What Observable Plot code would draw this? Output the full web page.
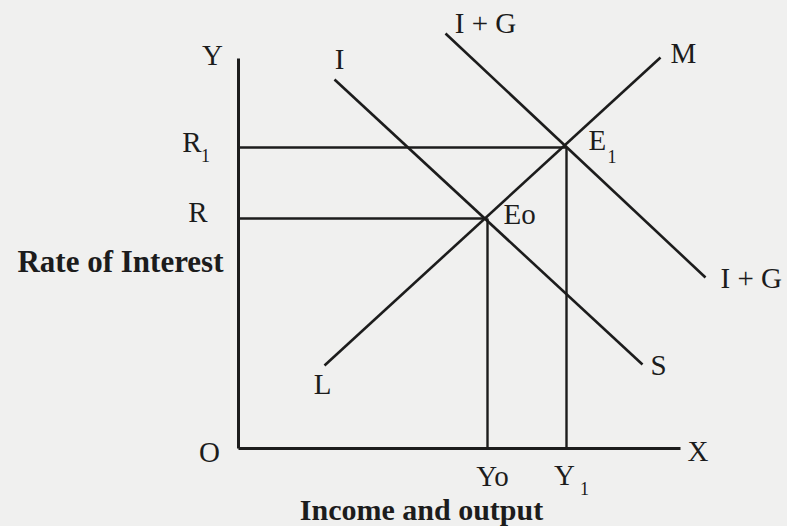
<!DOCTYPE html>
<html>
<head>
<meta charset="utf-8">
<script src="https://cdn.jsdelivr.net/npm/d3@7"></script>
<script src="https://cdn.jsdelivr.net/npm/@observablehq/plot@0.6"></script>
<style>
  html, body { margin: 0; padding: 0; background: #f0f0ef; }
  #chart { width: 787px; height: 526px; }
</style>
</head>
<body>
<div id="chart"></div>
<script>
// ---- Data (chart units: O at origin) ----
const curveNames      = ["IS", "LM", "IG"];
const curveStartX     = [9.6, 8.6, 20.7];
const curveStartY     = [36.9, 8.3, 41.5];
const curveEndX       = [40.4, 42.2, 46.7];
const curveEndY       = [8.4, 39.1, 17.1];
const curveStartLabel = ["I", "L", "I + G"];
const curveEndLabel   = ["S", "M", "I + G"];

const equilibriumNames  = ["Eo", "E"];
const equilibriumSub    = ["", "1"];
const equilibriumIncome = [24.9, 32.8];
const equilibriumRate   = [23.0, 30.1];
const rateLabels        = ["R", "R"];
const rateSub           = ["", "1"];
const incomeLabels      = ["Yo", "Y"];
const incomeSub         = ["", "1"];

const xAxisEnd = 44.2;
const yAxisTop = 39.0;
const yAxisTitle = "Rate of Interest";
const xAxisTitle = "Income and output";

// ---- Tables built from the arrays ----
const curves = curveNames.map((name, i) => ({
  name, x1: curveStartX[i], y1: curveStartY[i], x2: curveEndX[i], y2: curveEndY[i],
  startLabel: curveStartLabel[i], endLabel: curveEndLabel[i]
}));
const eq = equilibriumNames.map((name, i) => ({
  name, sub: equilibriumSub[i], income: equilibriumIncome[i], rate: equilibriumRate[i],
  rLabel: rateLabels[i], rSub: rateSub[i], yLabel: incomeLabels[i], ySub: incomeSub[i]
}));
const axes = [
  {x1: 0, y1: 0, x2: 0, y2: yAxisTop},
  {x1: 0, y1: 0, x2: xAxisEnd, y2: 0}
];

const ink = "#1c1c1c";
const F = 29;   // label font size
const FS = 18;  // subscript size

const pick = (arr, k) => arr.filter(d => d.name === k);
const plain = d => d.sub === "";

const chart = Plot.plot({
  width: 787,
  height: 526,
  margin: 0,
  x: {domain: [-23.8, 54.9], axis: null},
  y: {domain: [-7.8, 44.8], axis: null},
  style: {fontFamily: "'Liberation Serif', 'Times New Roman', serif", background: "#f0f0ef", color: ink},
  marks: [
    // axes
    Plot.link(axes, {x1: "x1", y1: "y1", x2: "x2", y2: "y2", stroke: ink, strokeWidth: 3}),
    // guide lines
    Plot.link(eq, {x1: () => 0, y1: "rate", x2: "income", y2: "rate", stroke: ink, strokeWidth: 2.4}),
    Plot.link(eq, {x1: "income", y1: () => 0, x2: "income", y2: "rate", stroke: ink, strokeWidth: 2.4}),
    // curves
    Plot.link(curves, {x1: "x1", y1: "y1", x2: "x2", y2: "y2", stroke: ink, strokeWidth: 2.6}),

    // curve labels
    Plot.text(pick(curves, "IS"), {x: "x1", y: "y1", text: "startLabel", dx: 5, dy: -20, fontSize: F, fill: ink}),
    Plot.text(pick(curves, "IS"), {x: "x2", y: "y2", text: "endLabel", dx: 8, dy: 1, textAnchor: "start", fontSize: F, fill: ink}),
    Plot.text(pick(curves, "LM"), {x: "x1", y: "y1", text: "startLabel", dx: -2, dy: 19, fontSize: F, fill: ink}),
    Plot.text(pick(curves, "LM"), {x: "x2", y: "y2", text: "endLabel", dx: 10, dy: -4, textAnchor: "start", fontSize: F, fill: ink}),
    Plot.text(pick(curves, "IG"), {x: "x1", y: "y1", text: "startLabel", dx: 40, dy: -10, fontSize: F, fill: ink}),
    Plot.text(pick(curves, "IG"), {x: "x2", y: "y2", text: "endLabel", dx: 15, dy: 1, textAnchor: "start", fontSize: F, fill: ink}),

    // axis letters
    Plot.text(axes.slice(0, 1), {x: "x2", y: "y2", text: () => "Y", dx: -26, dy: -3, fontSize: F, fill: ink}),
    Plot.text(axes.slice(1, 2), {x: "x2", y: "y2", text: () => "X", dx: 7, dy: 3, textAnchor: "start", fontSize: F, fill: ink}),
    Plot.text(axes.slice(1, 2), {x: "x1", y: "y1", text: () => "O", dx: -29, dy: 4, fontSize: F, fill: ink}),

    // equilibrium labels
    Plot.text(eq, {x: "income", y: "rate", text: "name", dx: 16, dy: -4, textAnchor: "start", fontSize: F, fill: ink,
      filter: plain}),
    Plot.text(eq, {x: "income", y: "rate", text: "name", dx: 22, dy: -7, textAnchor: "start", fontSize: F, fill: ink,
      filter: d => !plain(d)}),
    Plot.text(eq, {x: "income", y: "rate", text: "sub", dx: 41, dy: 10, textAnchor: "start", fontSize: FS, fill: ink,
      filter: d => !plain(d)}),

    // rate labels
    Plot.text(eq, {x: () => 0, y: "rate", text: "rLabel", dx: -31, dy: -6, textAnchor: "end", fontSize: F, fill: ink,
      filter: d => d.rSub === ""}),
    Plot.text(eq, {x: () => 0, y: "rate", text: "rLabel", dx: -37, dy: -5, textAnchor: "end", fontSize: F, fill: ink,
      filter: d => d.rSub !== ""}),
    Plot.text(eq, {x: () => 0, y: "rate", text: "rSub", dx: -33, dy: 9, textAnchor: "middle", fontSize: FS, fill: ink,
      filter: d => d.rSub !== ""}),

    // income labels
    Plot.text(eq, {x: "income", y: () => 0, text: "yLabel", dx: 5, dy: 28, fontSize: F, fill: ink,
      filter: d => d.ySub === ""}),
    Plot.text(eq, {x: "income", y: () => 0, text: "yLabel", dx: -2, dy: 27, fontSize: F, fill: ink,
      filter: d => d.ySub !== ""}),
    Plot.text(eq, {x: "income", y: () => 0, text: "ySub", dx: 18, dy: 41, fontSize: FS, fill: ink,
      filter: d => d.ySub !== ""}),

    // titles
    Plot.text(axes.slice(0, 1), {x: "x1", y: d => d.y2 / 2, text: () => yAxisTitle, dx: -15, dy: 9,
      textAnchor: "end", fontSize: 31, fontWeight: "bold", fill: ink}),
    Plot.text(axes.slice(1, 2), {x: d => d.x2 / 2, y: "y1", text: () => xAxisTitle, dx: -38, dy: 62,
      fontSize: 30, fontWeight: "bold", fill: ink})
  ]
});
document.getElementById("chart").appendChild(chart);
</script>
</body>
</html>
